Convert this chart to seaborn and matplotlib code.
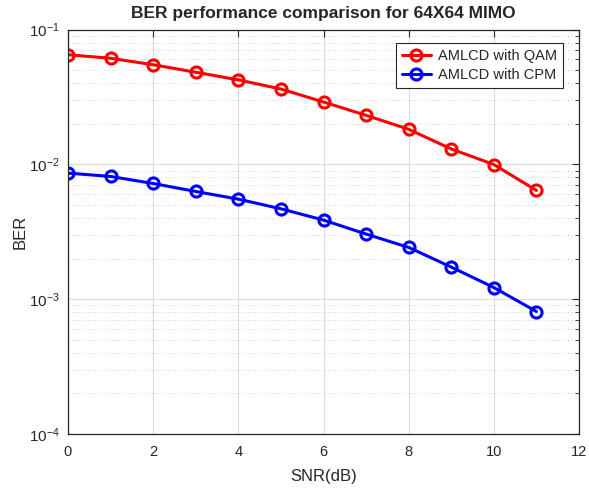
import numpy as np
import pandas as pd
import matplotlib
matplotlib.use("Agg")
import matplotlib.pyplot as plt
import seaborn as sns
from matplotlib.ticker import LogLocator, NullFormatter, MultipleLocator

snr = [0, 1, 2, 3, 4, 5, 6, 7, 8, 9, 10, 11]
ber_qam = [0.0650, 0.0612, 0.0548, 0.0482, 0.0423, 0.0362, 0.0290, 0.0231, 0.0182, 0.0130, 0.00997, 0.0064]
ber_cpm = [0.00861, 0.00813, 0.00721, 0.00629, 0.00552, 0.00468, 0.00386, 0.00304, 0.00242, 0.00173, 0.00122, 0.00081]
series_names = ["AMLCD with QAM", "AMLCD with CPM"]
colors = ["#ff0000", "#0000ff"]

sns.set_style("white")
plt.rcParams['font.family'] = ['Liberation Sans', 'DejaVu Sans']
plt.rcParams['mathtext.fontset'] = 'custom'
plt.rcParams['mathtext.rm'] = 'Liberation Sans'

fig = plt.figure(figsize=(5.89, 4.88), dpi=100)
ax = fig.add_axes([68/589, 1-434/488, (579-68)/589, (434-29.5)/488])

for name, vals, c in zip(series_names, [ber_qam, ber_cpm], colors):
    df = pd.DataFrame({"SNR": snr, "BER": vals})
    sns.lineplot(data=df, x="SNR", y="BER", ax=ax, color=c, linewidth=2.2,
                 marker="o", markersize=8, markerfacecolor="none",
                 markeredgecolor=c, markeredgewidth=2.2, label=name)

ax.set_yscale("log")
ax.set_xlim(0, 12)
ax.set_ylim(1e-4, 1e-1)
ax.xaxis.set_major_locator(MultipleLocator(2))
ax.yaxis.set_major_locator(LogLocator(base=10, numticks=10))
ax.yaxis.set_minor_locator(LogLocator(base=10, subs=np.arange(2, 10), numticks=10))
ax.yaxis.set_minor_formatter(NullFormatter())

tc = "#262626"
ax.grid(True, which="major", color="#dcdcdc", linewidth=0.8, linestyle="-")
ax.grid(True, which="minor", axis="y", color="#c0c0c0", linewidth=0.6, linestyle=(0, (1, 3)))
ax.set_axisbelow(True)
for s in ax.spines.values():
    s.set_color(tc)
    s.set_linewidth(0.9)
    s.set_visible(True)
ax.tick_params(which="both", direction="in", top=True, right=True, colors=tc,
               labelcolor=tc)
ax.tick_params(axis="x", labelsize=10.5, pad=8)
ax.tick_params(axis="y", labelsize=11, pad=6)
ax.tick_params(which="major", length=5)
ax.tick_params(which="minor", length=3)

ax.set_xlabel("SNR(dB)", fontsize=12, color=tc, labelpad=7)
ax.set_ylabel("BER", fontsize=12, color=tc, labelpad=1)
ax.set_title("BER performance comparison for 64X64 MIMO", fontsize=12.5, fontweight="bold", pad=8)

leg = ax.legend(loc="upper right", bbox_to_anchor=(0.969, 0.966), fontsize=10.5, frameon=True,
                fancybox=False, edgecolor=tc, framealpha=1, handlelength=2.0,
                borderpad=0.4, labelspacing=0.35, handletextpad=0.5, borderaxespad=0)
leg.get_frame().set_linewidth(0.8)

fig.savefig("out.png", dpi=100)
